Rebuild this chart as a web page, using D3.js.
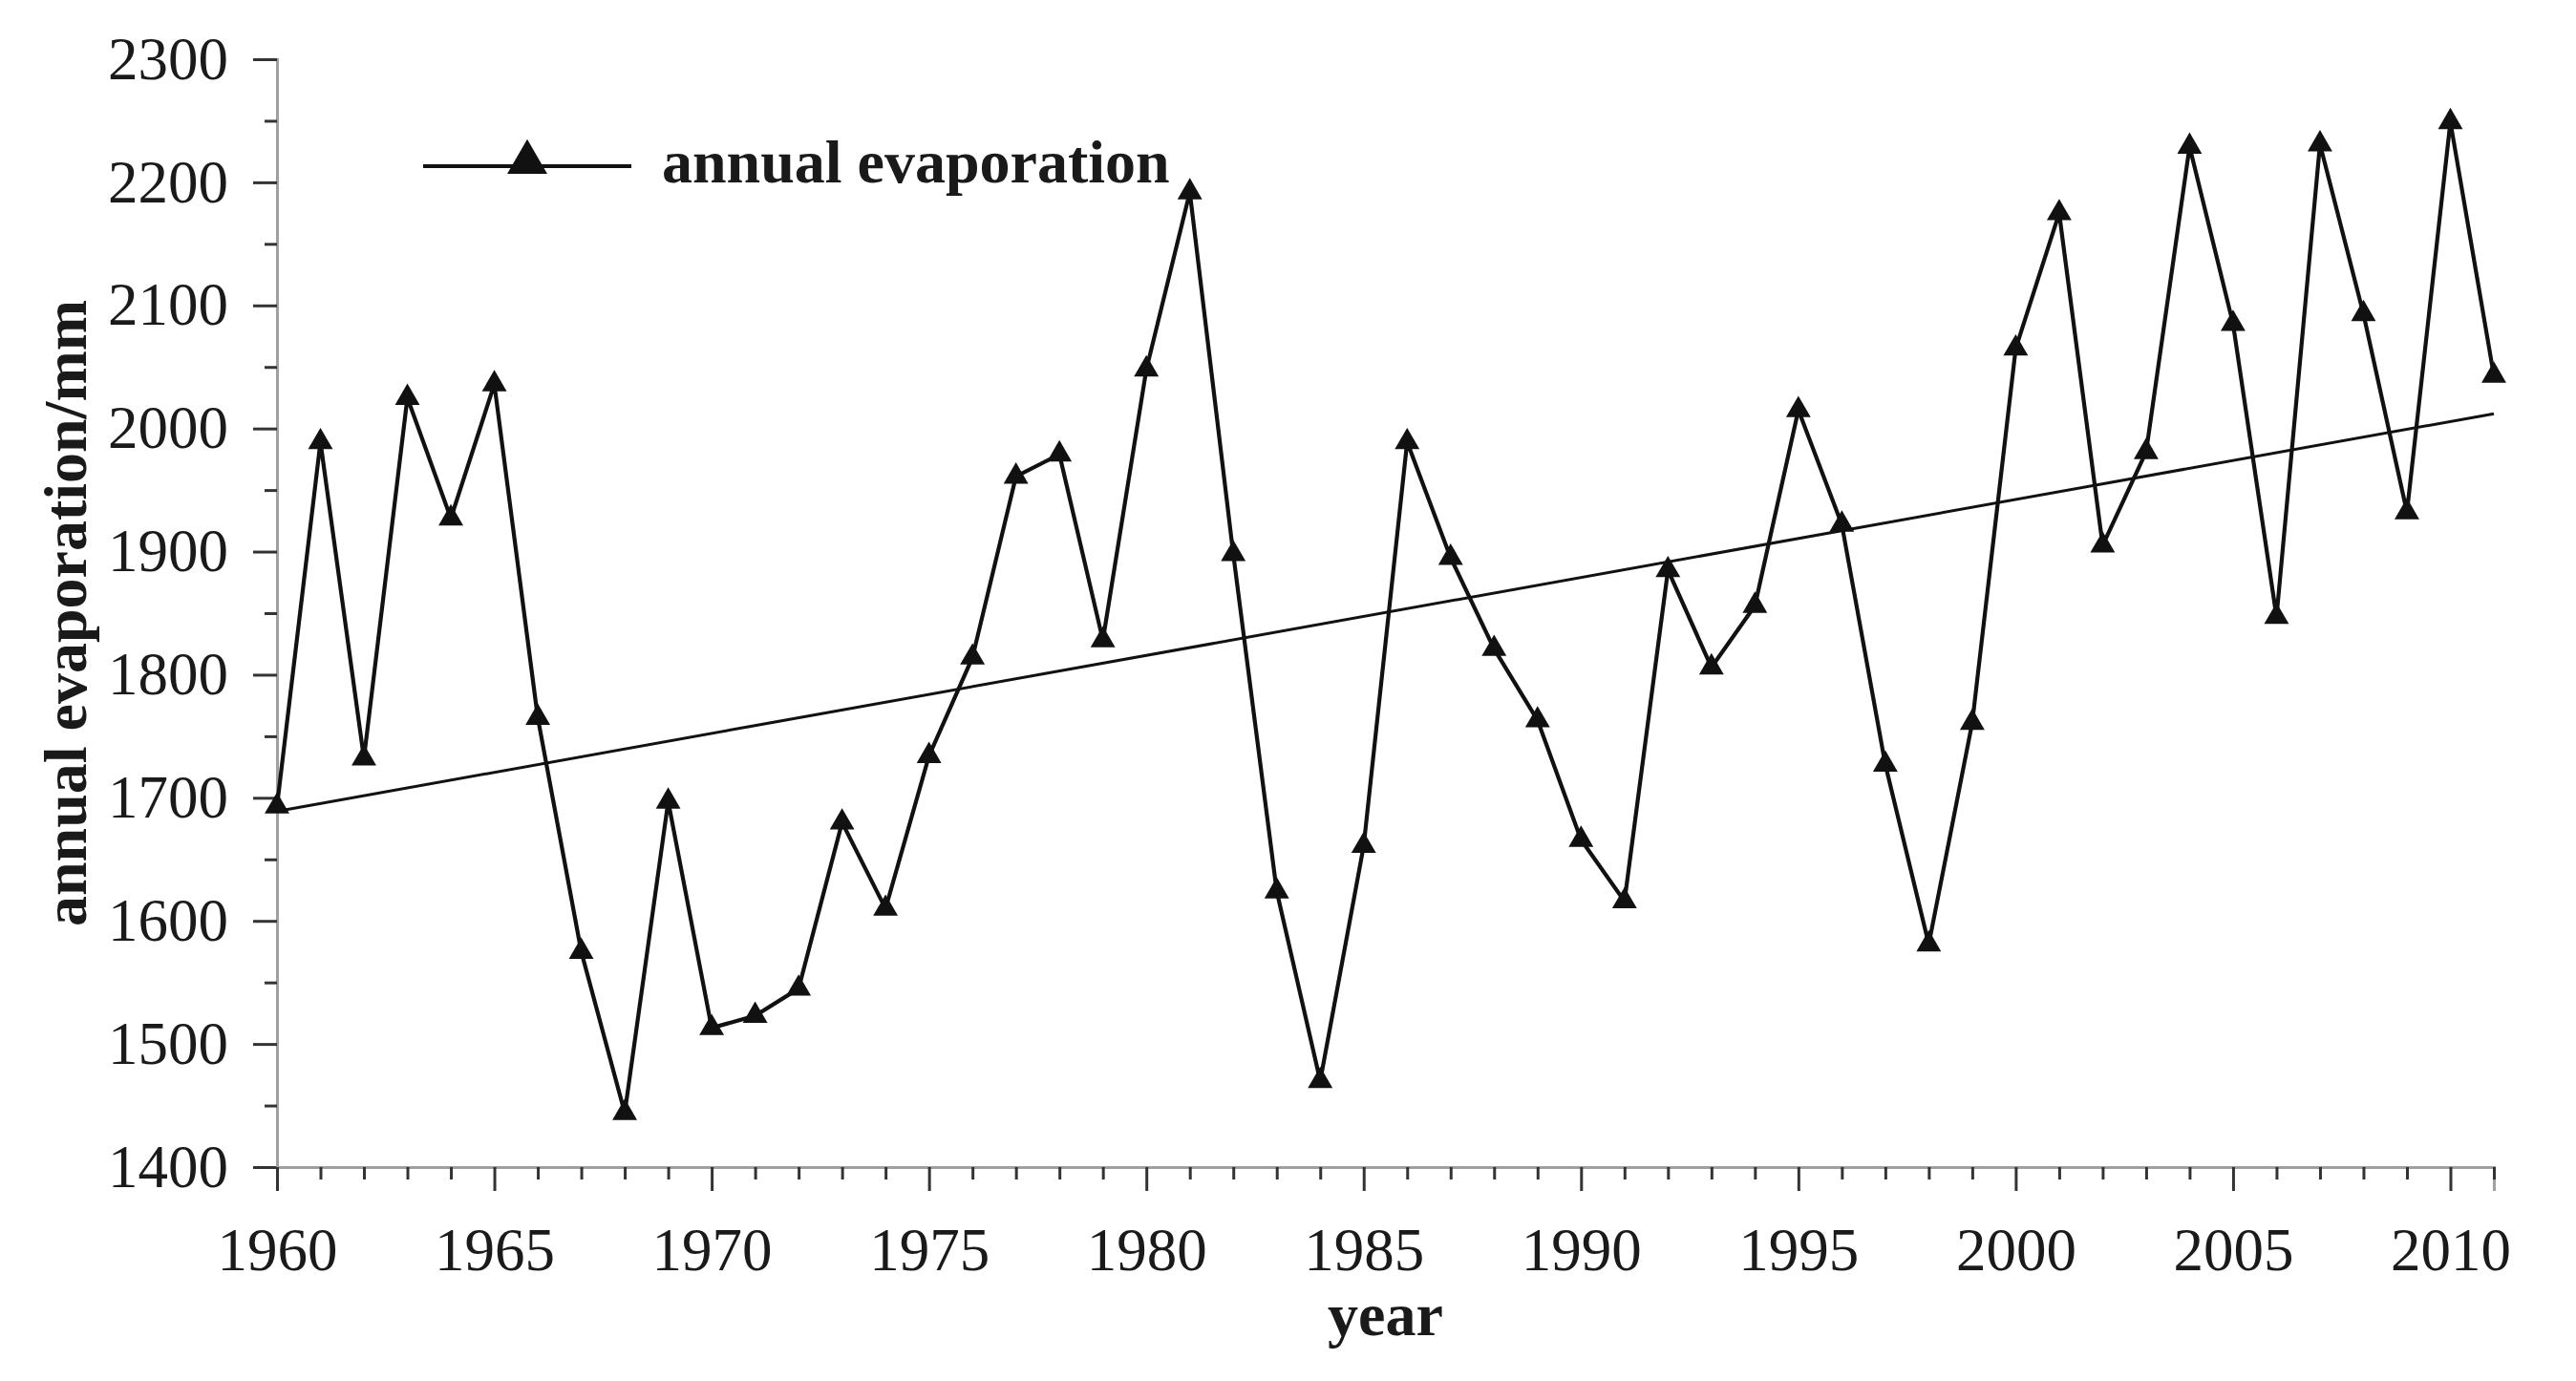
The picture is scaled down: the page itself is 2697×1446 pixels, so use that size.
<!DOCTYPE html>
<html>
<head>
<meta charset="utf-8">
<script src="https://cdn.jsdelivr.net/npm/d3@7"></script>
<style>
  html, body { margin: 0; padding: 0; background: #fff; }
  svg { display: block; }
  .tick text { font-family: "Liberation Serif", "Times New Roman", serif; }
</style>
</head>
<body>
<div id="container"></div>
<script>
var years = [1960, 1961, 1962, 1963, 1964, 1965, 1966, 1967, 1968, 1969,
             1970, 1971, 1972, 1973, 1974, 1975, 1976, 1977, 1978, 1979,
             1980, 1981, 1982, 1983, 1984, 1985, 1986, 1987, 1988, 1989,
             1990, 1991, 1992, 1993, 1994, 1995, 1996, 1997, 1998, 1999,
             2000, 2001, 2002, 2003, 2004, 2005, 2006, 2007, 2008, 2009,
             2010, 2011],
    evaporation = [1693, 1989, 1732, 2025, 1927, 2036, 1765, 1575, 1444, 1697,
                   1513, 1523, 1545, 1680, 1610, 1734, 1814, 1961, 1979, 1828,
                   2048, 2192, 1898, 1624, 1470, 1661, 1989, 1895, 1821, 1763,
                   1666, 1616, 1885, 1806, 1856, 2015, 1922, 1727, 1581, 1761,
                   2065, 2175, 1905, 1981, 2229, 2085, 1847, 2231, 2093, 1932,
                   2249, 2043],
    trendYears = [1960, 2011],
    trendValues = [1689, 2012],
    yTicks = d3.range(1400, 2301, 50),
    xTicks = d3.range(1960, 2012, 1),
    seriesName = 'annual evaporation',
    yTitle = 'annual evaporation/mm',
    xTitle = 'year';

var svgWidth = 2697,
    svgHeight = 1446,
    plotLeft = 290,
    plotRight = 2611,
    plotTop = 62,
    plotBottom = 1222,
    serif = '"Liberation Serif", "Times New Roman", serif',
    svg, x, y, data, trend;

data = years.map(function (d, i) {
  return { year: d, value: evaporation[i] };
});
trend = trendYears.map(function (d, i) {
  return { year: d, value: trendValues[i] };
});

svg = d3.select('#container').append('svg')
  .attr('width', svgWidth)
  .attr('height', svgHeight);

svg.append('rect')
  .attr('width', svgWidth)
  .attr('height', svgHeight)
  .attr('fill', '#fff');

x = d3.scaleLinear().domain([1960, 2011]).range([plotLeft, plotRight]);
y = d3.scaleLinear().domain([1400, 2300]).range([plotBottom, plotTop]);

function isMajorY(v) { return v % 100 === 0; }
function isMajorX(v) { return v % 5 === 0; }

// y axis
var yAxis = svg.append('g')
  .attr('transform', 'translate(' + plotLeft + ',0)')
  .call(d3.axisLeft(y)
    .tickValues(yTicks)
    .tickSize(25)
    .tickPadding(26)
    .tickFormat(function (d) { return isMajorY(d) ? d : ''; }));

yAxis.select('.domain').attr('stroke', '#a0a0a0').attr('stroke-width', 3);
yAxis.selectAll('.tick line')
  .attr('stroke', '#333')
  .attr('stroke-width', 3)
  .attr('x2', function (d) { return isMajorY(d) ? -25 : -13; });
yAxis.selectAll('.tick text')
  .attr('font-size', 63)
  .attr('fill', '#1a1a1a');

// x axis
var xAxis = svg.append('g')
  .attr('transform', 'translate(0,' + plotBottom + ')')
  .call(d3.axisBottom(x)
    .tickValues(xTicks)
    .tickSize(25)
    .tickPadding(38)
    .tickFormat(function (d) { return isMajorX(d) ? d : ''; }));

xAxis.select('.domain').attr('stroke', '#a0a0a0').attr('stroke-width', 3);
xAxis.selectAll('.tick line')
  .attr('stroke', '#333')
  .attr('stroke-width', 3)
  .attr('y2', function (d) { return isMajorX(d) ? 25 : 13; });
xAxis.selectAll('.tick text')
  .attr('font-size', 63)
  .attr('fill', '#1a1a1a');

// axis titles
svg.append('text')
  .attr('transform', 'translate(90,' + ((plotTop + plotBottom) / 2) + ') rotate(-90)')
  .attr('text-anchor', 'middle')
  .attr('font-family', serif)
  .attr('font-weight', 'bold')
  .attr('font-size', 64)
  .attr('fill', '#1a1a1a')
  .text(yTitle);

svg.append('text')
  .attr('x', (plotLeft + plotRight) / 2)
  .attr('y', 1398)
  .attr('text-anchor', 'middle')
  .attr('font-family', serif)
  .attr('font-weight', 'bold')
  .attr('font-size', 64)
  .attr('fill', '#1a1a1a')
  .text(xTitle);

// trend line
svg.append('path')
  .datum(trend)
  .attr('fill', 'none')
  .attr('stroke', '#111')
  .attr('stroke-width', 3)
  .attr('d', d3.line()
    .x(function (d) { return x(d.year); })
    .y(function (d) { return y(d.value); }));

// series line
svg.append('path')
  .datum(data)
  .attr('fill', 'none')
  .attr('stroke', '#111')
  .attr('stroke-width', 4.2)
  .attr('stroke-linejoin', 'miter')
  .attr('d', d3.line()
    .x(function (d) { return x(d.year); })
    .y(function (d) { return y(d.value); }));

// markers
svg.selectAll('path.marker')
  .data(data)
  .enter()
  .append('path')
  .attr('class', 'marker')
  .attr('fill', '#111')
  .attr('d', d3.symbol().type(d3.symbolTriangle).size(290))
  .attr('transform', function (d) {
    return 'translate(' + x(d.year) + ',' + y(d.value) + ')';
  });

// legend
var legend = svg.append('g');
legend.append('line')
  .attr('x1', 443).attr('x2', 661)
  .attr('y1', 174).attr('y2', 174)
  .attr('stroke', '#111')
  .attr('stroke-width', 4.2);
legend.append('path')
  .attr('fill', '#111')
  .attr('d', d3.symbol().type(d3.symbolTriangle).size(760))
  .attr('transform', 'translate(552,170)');
legend.append('text')
  .attr('x', 693)
  .attr('y', 191)
  .attr('font-family', serif)
  .attr('font-weight', 'bold')
  .attr('font-size', 64)
  .attr('fill', '#1a1a1a')
  .text(seriesName);
</script>
</body>
</html>
